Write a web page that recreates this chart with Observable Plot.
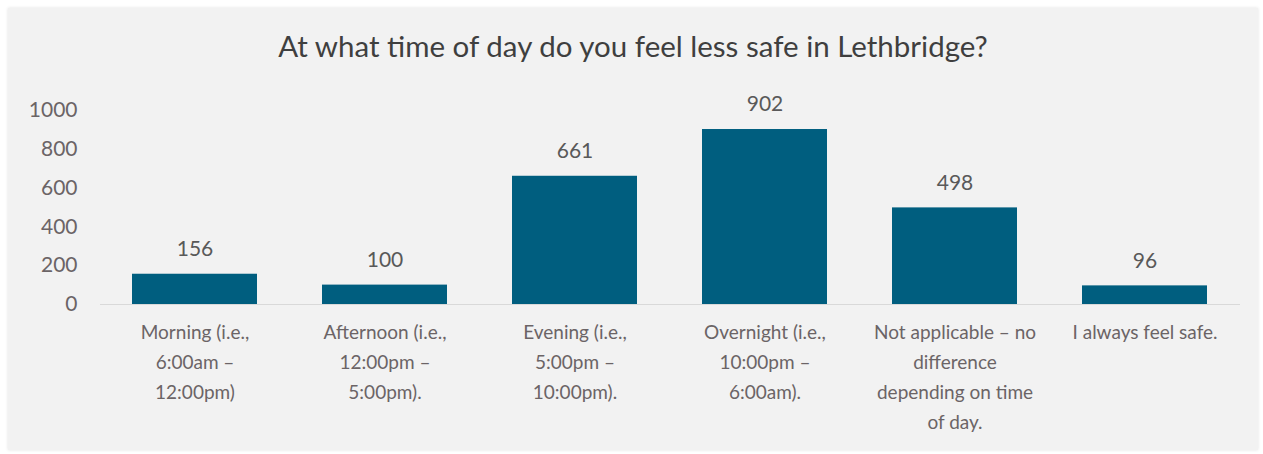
<!DOCTYPE html>
<html>
<head>
<meta charset="utf-8">
<script src="https://cdn.jsdelivr.net/npm/d3@7"></script>
<script src="https://cdn.jsdelivr.net/npm/@observablehq/plot@0.6"></script>
<style>
  html, body { margin: 0; padding: 0; background: #ffffff; }
  #panel {
    position: absolute; left: 8px; top: 8px; width: 1250px; height: 442px;
    background: #f2f2f2; box-shadow: 0 0 3px rgba(0,0,0,0.12);
    font-family: Lato, "Open Sans", sans-serif;
  }
  #title {
    height: 82px; line-height: 76px; text-align: center;
    font-size: 29.5px; color: #3f3f3f;
  }
  svg { display: block; }
</style>
</head>
<body>
<div id="panel">
  <div id="title">At what time of day do you feel less safe in Lethbridge?</div>
  <div id="chart"></div>
</div>
<script>
const categories = [
  "Morning (i.e., 6:00am – 12:00pm)",
  "Afternoon (i.e., 12:00pm – 5:00pm).",
  "Evening (i.e., 5:00pm – 10:00pm).",
  "Overnight (i.e., 10:00pm – 6:00am).",
  "Not applicable – no difference depending on time of day.",
  "I always feel safe."
];
const tickLabels = [
  "Morning (i.e.,\n6:00am –\n12:00pm)",
  "Afternoon (i.e.,\n12:00pm –\n5:00pm).",
  "Evening (i.e.,\n5:00pm –\n10:00pm).",
  "Overnight (i.e.,\n10:00pm –\n6:00am).",
  "Not applicable – no\ndifference\ndepending on time\nof day.",
  "I always feel safe."
];
const counts = [156, 100, 661, 902, 498, 96];
const yTicks = [0, 200, 400, 600, 800, 1000];

const data = categories.map((c, i) => ({category: c, count: counts[i]}));
const labelOf = new Map(categories.map((c, i) => [c, tickLabels[i]]));

const chart = Plot.plot({
  width: 1250,
  height: 360,
  marginTop: 20,
  marginBottom: 146,
  marginLeft: 92,
  marginRight: 18,
  style: {background: "transparent", fontFamily: "Lato, 'Open Sans', sans-serif"},
  x: {domain: categories, paddingInner: 0.34, paddingOuter: 0.17, label: null},
  y: {domain: [0, 1000], label: null},
  marks: [
    Plot.ruleY([0], {stroke: "#d9d9d9", strokeWidth: 1}),
    Plot.barY(data, {x: "category", y: "count", fill: "#005e7f"}),
    Plot.text(data, {x: "category", y: "count", text: d => String(d.count), dy: -25, fontSize: 21, fill: "#595959"}),
    Plot.axisY({ticks: yTicks, tickSize: 0, tickPadding: 23, fontSize: 21, fill: "#6b6466", tickFormat: d3.format("d"), label: null}),
    Plot.axisX({tickSize: 0, tickPadding: 13, fontSize: 19, fill: "#6b6466", lineHeight: 1.58, tickFormat: d => labelOf.get(d), label: null})
  ]
});
document.getElementById("chart").appendChild(chart);
</script>
</body>
</html>
